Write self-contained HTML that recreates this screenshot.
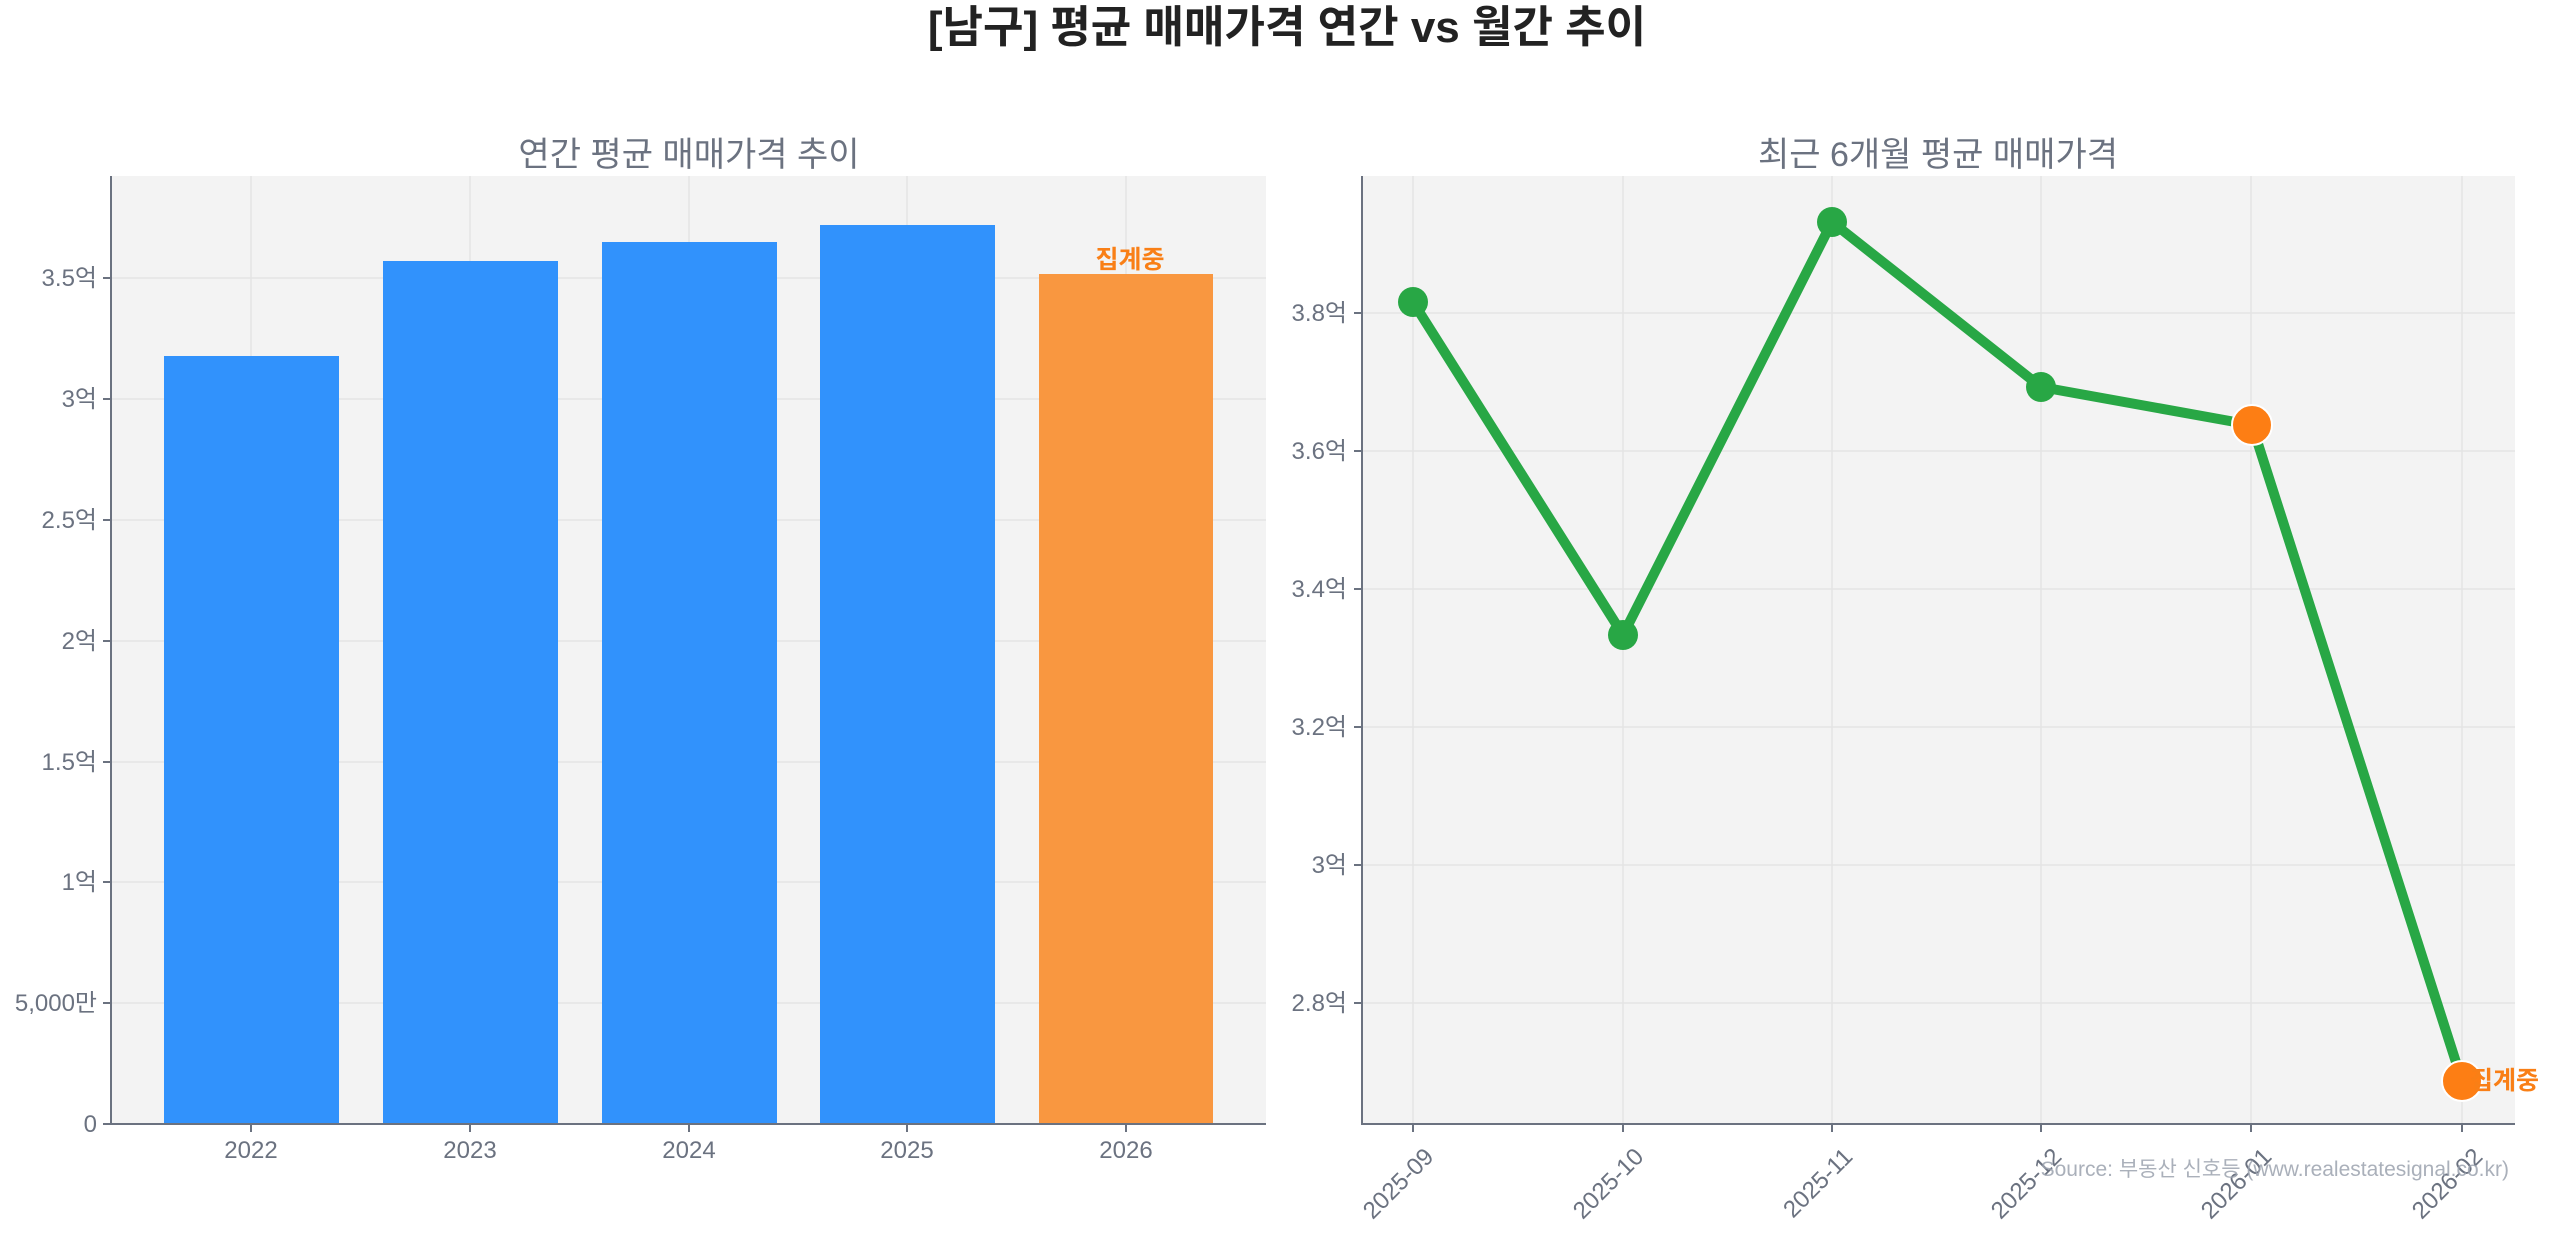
<!DOCTYPE html>
<html><head><meta charset="utf-8"><style>
body{margin:0;background:#fff;}
svg text{font-family:"Liberation Sans","Noto Sans CJK KR",sans-serif;}
</style></head><body>
<svg width="2560" height="1234" viewBox="0 0 2560 1234" xmlns="http://www.w3.org/2000/svg">
<text x="1287" y="42" text-anchor="middle" font-size="44" font-weight="bold" fill="#222">[남구] 평균 매매가격 연간 vs 월간 추이</text>
<!-- left panel -->
<text x="689" y="166" text-anchor="middle" font-size="34" fill="#6b7280">연간 평균 매매가격 추이</text>
<rect x="111" y="176" width="1155" height="948" fill="#f3f3f3"/>
<g stroke="#e4e4e4" stroke-width="1.5">
<line x1="251" y1="176" x2="251" y2="1124"/><line x1="470" y1="176" x2="470" y2="1124"/><line x1="689" y1="176" x2="689" y2="1124"/><line x1="907" y1="176" x2="907" y2="1124"/><line x1="1126" y1="176" x2="1126" y2="1124"/>
<line x1="111" y1="1003" x2="1266" y2="1003"/><line x1="111" y1="882" x2="1266" y2="882"/><line x1="111" y1="762" x2="1266" y2="762"/><line x1="111" y1="641" x2="1266" y2="641"/><line x1="111" y1="520" x2="1266" y2="520"/><line x1="111" y1="399" x2="1266" y2="399"/><line x1="111" y1="278" x2="1266" y2="278"/>
</g>
<g fill="#3192fc">
<rect x="164" y="356" width="175" height="768"/>
<rect x="383" y="261" width="175" height="863"/>
<rect x="602" y="242" width="175" height="882"/>
<rect x="820" y="225" width="175" height="899"/>
</g>
<rect x="1039" y="274" width="174" height="850" fill="#f99740"/>
<text x="1130" y="268" text-anchor="middle" font-size="25" font-weight="bold" fill="#f97f16">집계중</text>
<g stroke="#6b7280" stroke-width="2"><line x1="111" y1="176" x2="111" y2="1125"/><line x1="110" y1="1124" x2="1266" y2="1124"/></g>
<g stroke="#6b7280" stroke-width="2">
<line x1="103" y1="1124" x2="111" y2="1124"/><line x1="103" y1="1003" x2="111" y2="1003"/><line x1="103" y1="882" x2="111" y2="882"/><line x1="103" y1="762" x2="111" y2="762"/><line x1="103" y1="641" x2="111" y2="641"/><line x1="103" y1="520" x2="111" y2="520"/><line x1="103" y1="399" x2="111" y2="399"/><line x1="103" y1="278" x2="111" y2="278"/>
<line x1="251" y1="1124" x2="251" y2="1132"/><line x1="470" y1="1124" x2="470" y2="1132"/><line x1="689" y1="1124" x2="689" y2="1132"/><line x1="907" y1="1124" x2="907" y2="1132"/><line x1="1126" y1="1124" x2="1126" y2="1132"/>
</g>
<g font-size="24" fill="#6b7280" text-anchor="end">
<text x="97" y="1132">0</text><text x="97" y="1011">5,000만</text><text x="97" y="890">1억</text><text x="97" y="770">1.5억</text><text x="97" y="649">2억</text><text x="97" y="528">2.5억</text><text x="97" y="407">3억</text><text x="97" y="286">3.5억</text>
</g>
<g font-size="24" fill="#6b7280" text-anchor="middle">
<text x="251" y="1158">2022</text><text x="470" y="1158">2023</text><text x="689" y="1158">2024</text><text x="907" y="1158">2025</text><text x="1126" y="1158">2026</text>
</g>
<!-- right panel -->
<text x="1938" y="166" text-anchor="middle" font-size="34" fill="#6b7280">최근 6개월 평균 매매가격</text>
<rect x="1362" y="176" width="1153" height="948" fill="#f3f3f3"/>
<g stroke="#e4e4e4" stroke-width="1.5">
<line x1="1413" y1="176" x2="1413" y2="1124"/><line x1="1623" y1="176" x2="1623" y2="1124"/><line x1="1832" y1="176" x2="1832" y2="1124"/><line x1="2041" y1="176" x2="2041" y2="1124"/><line x1="2251" y1="176" x2="2251" y2="1124"/><line x1="2462" y1="176" x2="2462" y2="1124"/>
<line x1="1362" y1="313" x2="2515" y2="313"/><line x1="1362" y1="451" x2="2515" y2="451"/><line x1="1362" y1="589" x2="2515" y2="589"/><line x1="1362" y1="727" x2="2515" y2="727"/><line x1="1362" y1="865" x2="2515" y2="865"/><line x1="1362" y1="1003" x2="2515" y2="1003"/>
</g>
<polyline points="1413,302 1623,635 1832,222 2041,387 2252,425 2462,1081" fill="none" stroke="#28a745" stroke-width="10" stroke-linejoin="round"/>
<g fill="#28a745"><circle cx="1413" cy="302" r="15"/><circle cx="1623" cy="635" r="15"/><circle cx="1832" cy="222" r="15"/><circle cx="2041" cy="387" r="15"/></g>
<g fill="#fd7e14" stroke="#fff" stroke-width="2"><circle cx="2252" cy="425" r="20"/><circle cx="2462" cy="1081" r="20"/></g>
<text x="2470" y="1089" font-size="25" font-weight="bold" fill="#f97f16">집계중</text>
<g stroke="#6b7280" stroke-width="2"><line x1="1362" y1="176" x2="1362" y2="1125"/><line x1="1361" y1="1124" x2="2515" y2="1124"/>
<line x1="1354" y1="313" x2="1362" y2="313"/><line x1="1354" y1="451" x2="1362" y2="451"/><line x1="1354" y1="589" x2="1362" y2="589"/><line x1="1354" y1="727" x2="1362" y2="727"/><line x1="1354" y1="865" x2="1362" y2="865"/><line x1="1354" y1="1003" x2="1362" y2="1003"/>
<line x1="1413" y1="1124" x2="1413" y2="1132"/><line x1="1623" y1="1124" x2="1623" y2="1132"/><line x1="1832" y1="1124" x2="1832" y2="1132"/><line x1="2041" y1="1124" x2="2041" y2="1132"/><line x1="2251" y1="1124" x2="2251" y2="1132"/><line x1="2462" y1="1124" x2="2462" y2="1132"/>
</g>
<text x="1347" y="321" font-size="24" fill="#6b7280" text-anchor="end">3.8억</text>
<text x="1347" y="459" font-size="24" fill="#6b7280" text-anchor="end">3.6억</text>
<text x="1347" y="597" font-size="24" fill="#6b7280" text-anchor="end">3.4억</text>
<text x="1347" y="735" font-size="24" fill="#6b7280" text-anchor="end">3.2억</text>
<text x="1347" y="873" font-size="24" fill="#6b7280" text-anchor="end">3억</text>
<text x="1347" y="1011" font-size="24" fill="#6b7280" text-anchor="end">2.8억</text>
<text font-size="24" fill="#6b7280" text-anchor="end" transform="translate(1435,1158) rotate(-45)">2025-09</text>
<text font-size="24" fill="#6b7280" text-anchor="end" transform="translate(1645,1158) rotate(-45)">2025-10</text>
<text font-size="24" fill="#6b7280" text-anchor="end" transform="translate(1854,1158) rotate(-45)">2025-11</text>
<text font-size="24" fill="#6b7280" text-anchor="end" transform="translate(2063,1158) rotate(-45)">2025-12</text>
<text font-size="24" fill="#6b7280" text-anchor="end" transform="translate(2273,1158) rotate(-45)">2026-01</text>
<text font-size="24" fill="#6b7280" text-anchor="end" transform="translate(2484,1158) rotate(-45)">2026-02</text>
<text x="2509" y="1176" text-anchor="end" font-size="21" fill="#9ca3af" opacity="0.85">Source: 부동산 신호등 (www.realestatesignal.co.kr)</text>
</svg>
</body></html>
